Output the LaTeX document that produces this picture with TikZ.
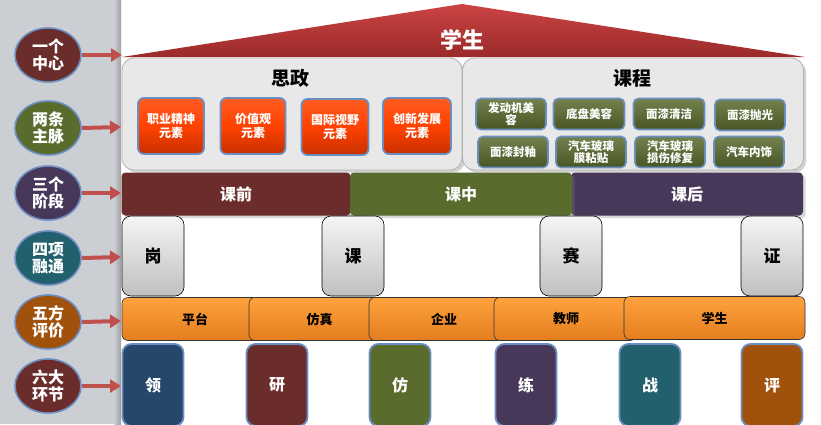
\documentclass[tikz,border=0pt]{standalone}
\usepackage{fontspec}
\setmainfont{Noto Sans CJK SC}
\usetikzlibrary{arrows.meta,shadows,shapes.geometric}
\definecolor{cdred}{HTML}{6B2C2C}
\definecolor{colive}{HTML}{5A6B2E}
\definecolor{cpurple}{HTML}{47385A}
\definecolor{cteal}{HTML}{23606E}
\definecolor{cbrown}{HTML}{A0520C}
\definecolor{cnavy}{HTML}{27466B}
\definecolor{cring}{HTML}{6B8EC0}
\definecolor{carrow}{HTML}{C0504D}
\definecolor{cpanel}{HTML}{CBCED3}
\definecolor{roofa}{HTML}{CC4343}
\definecolor{roofb}{HTML}{9A2A2A}
\definecolor{reda}{HTML}{FF5C22}
\definecolor{redm}{HTML}{FF4200}
\definecolor{redb}{HTML}{C83000}
\definecolor{ora}{HTML}{FFA23E}
\definecolor{orb}{HTML}{E47D1E}
\tikzset{
  ball/.style={ellipse,draw=cring,line width=1.6pt,minimum width=66pt,minimum height=54pt,inner sep=0pt,
    text=white,font=\fontsize{16}{17}\selectfont\bfseries,align=center},
  arr/.style={carrow,line width=4pt,-{Triangle[length=11pt,width=13pt]}},
  bigbox/.style={draw=black!30,fill=black!9,rounded corners=12pt,line width=0.8pt,drop shadow={opacity=0.35}},
  redbox/.style={draw=cring,line width=1.8pt,top color=reda,bottom color=redb,middle color=redm,rounded corners=6pt,
    text=white,font=\fontsize{12}{14}\selectfont\bfseries,align=center,inner sep=1pt},
  greenbox/.style={draw=cring,line width=1.6pt,top color=colive!85!white,bottom color=colive!80!black,rounded corners=5pt,
    text=white,font=\fontsize{11.5}{12.5}\selectfont\bfseries,align=center,inner sep=0pt,minimum height=31pt},
  stage/.style={rounded corners=4pt,text=white,font=\fontsize{16}{18}\selectfont\bfseries,minimum height=43pt,drop shadow={opacity=0.3}},
  graybox/.style={draw=black,line width=0.6pt,top color=black!4,bottom color=black!25,rounded corners=9pt,
    font=\fontsize{17}{19}\selectfont\bfseries,minimum width=62pt,minimum height=80pt,inner sep=0pt},
  orbox/.style={draw=black!80,line width=0.6pt,top color=ora,bottom color=orb,rounded corners=6pt,
    font=\fontsize{13}{15}\selectfont\bfseries,minimum height=43pt},
  colbox/.style={draw=cring,line width=1.8pt,rounded corners=9pt,text=white,
    font=\fontsize{16}{18}\selectfont\bfseries,minimum width=61pt,minimum height=82pt,inner sep=0pt}
}
\begin{document}
\begin{tikzpicture}[x=1pt,y=-1pt]
\useasboundingbox (0,0) rectangle (821,424);
\fill[white] (0,0) rectangle (821,424);
% left panel
\fill[cpanel] (0,0) rectangle (114,424);
\shade[left color=cpanel,right color=black!38] (114,0) rectangle (121,424);
% roof
\shade[top color=roofa,bottom color=roofb] (122,57) -- (462,4) -- (805,57) -- cycle;
\node[text=white,font=\fontsize{22}{24}\selectfont\bfseries] (roof) at (462,40) {学生};
% big boxes
\node[bigbox,minimum width=340pt,minimum height=112pt] (sz) at (292,114) {};
\node[font=\fontsize{19}{21}\selectfont\bfseries] (szt) at (290,78) {思政};
\node[bigbox,minimum width=341pt,minimum height=112pt] (kc) at (633,114) {};
\node[font=\fontsize{19}{21}\selectfont\bfseries] (kct) at (632,78) {课程};
% red elements
\node[redbox,minimum width=66pt,minimum height=56pt] (r1) at (171,126) {职业精神\\元素};
\node[redbox,minimum width=65pt,minimum height=56pt] (r2) at (253,126) {价值观\\元素};
\node[redbox,minimum width=67pt,minimum height=56pt] (r3) at (335,127) {国际视野\\元素};
\node[redbox,minimum width=68pt,minimum height=56pt] (r4) at (417,126) {创新发展\\元素};
% green elements
\node[greenbox,minimum width=70pt] (g1) at (511,114) {发动机美\\容};
\node[greenbox,minimum width=71pt] (g2) at (589,114) {底盘美容};
\node[greenbox,minimum width=71pt] (g3) at (669,114) {面漆清洁};
\node[greenbox,minimum width=70pt] (g4) at (750,115) {面漆抛光};
\node[greenbox,minimum width=70pt] (g5) at (513,152) {面漆封釉};
\node[greenbox,minimum width=70pt] (g6) at (591,152) {汽车玻璃\\膜粘贴};
\node[greenbox,minimum width=70pt] (g7) at (670,152) {汽车玻璃\\损伤修复};
\node[greenbox,minimum width=70pt] (g8) at (749,152) {汽车内饰};
% stages
\node[stage,fill=cdred,minimum width=229pt] (s1) at (236,194) {课前};
\node[stage,fill=cpurple,minimum width=232pt] (s3) at (687,194) {课后};
\node[stage,fill=colive,minimum width=222pt] (s2) at (461,194) {课中};
% four
\node[graybox] (f1) at (153,256) {岗};
\node[graybox] (f2) at (353,256) {课};
\node[graybox] (f3) at (571,256) {赛};
\node[graybox] (f4) at (772,256) {证};
% five
\node[orbox,minimum width=138pt] (o1) at (191,319) {\hspace*{8pt}平台};
\node[orbox,minimum width=131pt] (o2) at (314.5,319) {\hspace*{10pt}仿真};
\node[orbox,minimum width=136pt] (o3) at (437,319) {\hspace*{14pt}企业};
\node[orbox,minimum width=142pt] (o4) at (565,319) {\hspace*{2pt}教师};
\node[orbox,minimum width=181pt] (o5) at (714.5,318) {学生};
% six
\node[colbox,fill=cnavy] (c1) at (153,385) {领};
\node[colbox,fill=cdred] (c2) at (277,385) {研};
\node[colbox,fill=colive] (c3) at (400,385) {仿};
\node[colbox,fill=cpurple] (c4) at (526,385) {练};
\node[colbox,fill=cteal] (c5) at (650,385) {战};
\node[colbox,fill=cbrown] (c6) at (772,385) {评};
% left circles
\node[ball,fill=cdred] (b1) at (48,55) {一个\\中心};
\node[ball,fill=colive] (b2) at (48,128) {两条\\主脉};
\node[ball,fill=cpurple] (b3) at (48,193) {三个\\阶段};
\node[ball,fill=cteal] (b4) at (48,258) {四项\\融通};
\node[ball,fill=cbrown] (b5) at (48,322) {五方\\评价};
\node[ball,fill=cdred] (b6) at (48,386) {六大\\环节};
\coordinate (e1) at (122,55);
\coordinate (e2) at (121,127);
\coordinate (e3) at (121,193);
\coordinate (e4) at (121,257);
\coordinate (e5) at (121,321);
\coordinate (e6) at (121,386);
\foreach \i in {1,...,6}{\draw[arr] (b\i.east) -- (e\i);}
\end{tikzpicture}
\end{document}
